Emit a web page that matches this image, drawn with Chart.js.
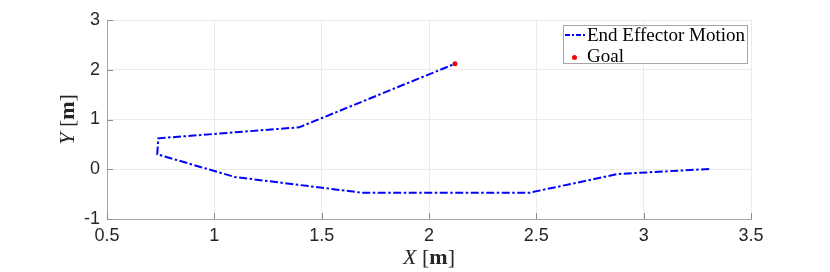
<!DOCTYPE html>
<html>
<head>
<meta charset="utf-8">
<script src="https://cdn.jsdelivr.net/npm/chart.js@4/dist/chart.umd.min.js"></script>
<style>
  html, body { margin: 0; padding: 0; background: #fff; }
  #wrap { width: 830px; height: 272px; position: relative; }
</style>
</head>
<body>
<div id="wrap"><canvas id="plot"></canvas></div>
<script>
// end effector path (x, y in metres)
const pathX = [3.305, 2.88, 2.47, 1.685, 1.095, 0.734, 0.739, 1.395, 2.121];
const pathY = [0.005, -0.095, -0.47, -0.47, -0.155, 0.30, 0.622, 0.843, 2.12];
const goalX = [2.121];
const goalY = [2.12];

const xTicks = [0.5, 1, 1.5, 2, 2.5, 3, 3.5];
const yTicks = [-1, 0, 1, 2, 3];

const legendLabels = ['End Effector Motion', 'Goal'];

const lineColor = '#0000ff';
const goalColor = '#ff0000';

function toPoints(xs, ys) {
    return xs.map((x, i) => ({ x: x, y: ys[i] }));
}

const serif = '"Liberation Serif", "DejaVu Serif", serif';

// draws a label made of pieces with different font styles
function drawRich(ctx, parts, size) {
    let total = 0;
    parts.forEach(p => {
        ctx.font = p.style + ' ' + size + 'px ' + serif;
        p.w = ctx.measureText(p.t).width;
        total += p.w;
    });
    let x = -total / 2;
    parts.forEach(p => {
        ctx.font = p.style + ' ' + size + 'px ' + serif;
        ctx.fillText(p.t, x, 0);
        x += p.w;
    });
}

const matlabLook = {
    id: 'matlabLook',
    afterDraw(chart) {
        const ctx = chart.ctx;
        const area = chart.chartArea;
        const xs = chart.scales.x, ys = chart.scales.y;

        // inward tick marks
        ctx.save();
        ctx.strokeStyle = '#8c8c8c';
        ctx.lineWidth = 1;
        ctx.beginPath();
        xTicks.forEach(v => {
            const px = Math.round(xs.getPixelForValue(v)) + 0.5;
            ctx.moveTo(px, area.bottom);
            ctx.lineTo(px, area.bottom - 6);
        });
        yTicks.forEach(v => {
            const py = Math.round(ys.getPixelForValue(v)) + 0.5;
            ctx.moveTo(area.left, py);
            ctx.lineTo(area.left + 6, py);
        });
        ctx.stroke();
        ctx.restore();

        // axis titles
        ctx.save();
        ctx.fillStyle = '#262626';
        ctx.textBaseline = 'middle';
        ctx.translate((area.left + area.right) / 2, 258);
        drawRich(ctx, [
            { t: 'X', style: 'italic' },
            { t: ' [', style: 'normal' },
            { t: 'm', style: 'bold' },
            { t: ']', style: 'normal' }
        ], 22);
        ctx.restore();

        ctx.save();
        ctx.fillStyle = '#262626';
        ctx.textBaseline = 'middle';
        ctx.translate(68, (area.top + area.bottom) / 2);
        ctx.rotate(-Math.PI / 2);
        drawRich(ctx, [
            { t: 'Y', style: 'italic' },
            { t: ' [', style: 'normal' },
            { t: 'm', style: 'bold' },
            { t: ']', style: 'normal' }
        ], 22);
        ctx.restore();

        // legend box, top right inside the axes
        const bx = 563, by = 25, bw = 184, bh = 38;
        ctx.save();
        ctx.fillStyle = '#ffffff';
        ctx.fillRect(bx, by, bw, bh);
        ctx.strokeStyle = '#a6a6a6';
        ctx.lineWidth = 1;
        ctx.strokeRect(bx + 0.5, by + 0.5, bw, bh);

        ctx.strokeStyle = lineColor;
        ctx.lineWidth = 2;
        ctx.setLineDash([5, 2, 2, 2]);
        ctx.beginPath();
        ctx.moveTo(bx + 2, 35);
        ctx.lineTo(bx + 23, 35);
        ctx.stroke();
        ctx.setLineDash([]);

        ctx.fillStyle = goalColor;
        ctx.beginPath();
        ctx.arc(bx + 11.5, 57.5, 2.5, 0, Math.PI * 2);
        ctx.fill();

        ctx.fillStyle = '#000000';
        ctx.font = '19px ' + serif;
        ctx.textBaseline = 'alphabetic';
        ctx.fillText(legendLabels[0], bx + 24, 41);
        ctx.fillText(legendLabels[1], bx + 24, 62);
        ctx.restore();
    }
};

const ctx = document.getElementById('plot');

new Chart(ctx, {
    type: 'scatter',
    data: {
        datasets: [
            {
                label: legendLabels[0],
                data: toPoints(pathX, pathY),
                showLine: true,
                borderColor: lineColor,
                borderWidth: 2,
                borderDash: [8, 2.5, 2.5, 2.5],
                pointRadius: 0,
                fill: false,
                tension: 0
            },
            {
                label: legendLabels[1],
                data: toPoints(goalX, goalY),
                showLine: false,
                pointRadius: 2.5,
                pointBackgroundColor: goalColor,
                pointBorderColor: goalColor,
                pointBorderWidth: 0
            }
        ]
    },
    options: {
        responsive: true,
        maintainAspectRatio: false,
        animation: false,
        layout: { padding: { top: 20, right: 79, bottom: 0, left: 0 } },
        plugins: {
            legend: { display: false },
            tooltip: { enabled: false }
        },
        scales: {
            x: {
                type: 'linear',
                min: 0.5,
                max: 3.5,
                afterBuildTicks: s => { s.ticks = xTicks.map(v => ({ value: v })); },
                afterFit: s => { s.height = 53; },
                ticks: {
                    color: '#262626',
                    font: { family: '"Liberation Sans", Arial, sans-serif', size: 18 },
                    padding: 6,
                    maxRotation: 0,
                    callback: v => String(v)
                },
                grid: { color: '#ebebeb', drawTicks: false },
                border: { color: '#a6a6a6' }
            },
            y: {
                type: 'linear',
                min: -1,
                max: 3,
                afterBuildTicks: s => { s.ticks = yTicks.map(v => ({ value: v })); },
                afterFit: s => { s.width = 107; },
                ticks: {
                    color: '#262626',
                    font: { family: '"Liberation Sans", Arial, sans-serif', size: 18 },
                    padding: 7,
                    callback: v => String(v)
                },
                grid: { color: '#ebebeb', drawTicks: false },
                border: { color: '#a6a6a6' }
            }
        }
    },
    plugins: [matlabLook]
});
</script>
</body>
</html>
